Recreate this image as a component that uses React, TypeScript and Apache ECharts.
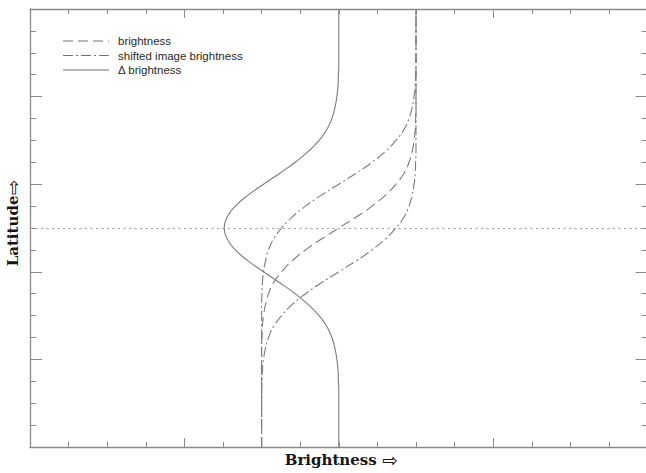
import React, { useEffect, useRef } from "react";
import * as echarts from "echarts";

// Latitude samples (y axis, 0 = bottom, 20 = top, equator line at 10)
const latitude = [
  0, 0.5, 1, 1.5, 2, 2.5, 3, 3.5, 4, 4.5, 5, 5.5, 6, 6.5, 7, 7.5, 8, 8.5, 9, 9.5,
  10, 10.5, 11, 11.5, 12, 12.5, 13, 13.5, 14, 14.5, 15, 15.5, 16, 16.5, 17, 17.5,
  18, 18.5, 19, 19.5, 20,
];

// Brightness (dashed)
const brightness = [
  6.0, 6.0, 6.0, 6.0, 6.0, 6.0, 6.0, 6.0, 6.0, 6.0, 6.01, 6.02, 6.05, 6.1, 6.18,
  6.31, 6.52, 6.79, 7.14, 7.55, 8.0, 8.45, 8.86, 9.21, 9.48, 9.69, 9.82, 9.9,
  9.95, 9.98, 9.99, 10.0, 10.0, 10.0, 10.0, 10.0, 10.0, 10.0, 10.0, 10.0, 10.0,
];

// Shifted image brightness, shifted towards the top (dash-dot)
const shiftedUp = [
  6.0, 6.0, 6.0, 6.0, 6.0, 6.0, 6.0, 6.0, 6.0, 6.0, 6.0, 6.0, 6.0, 6.0, 6.01,
  6.02, 6.05, 6.1, 6.18, 6.31, 6.52, 6.79, 7.14, 7.55, 8.0, 8.45, 8.86, 9.21,
  9.48, 9.69, 9.82, 9.9, 9.95, 9.98, 9.99, 10.0, 10.0, 10.0, 10.0, 10.0, 10.0,
];

// Shifted image brightness, shifted towards the bottom (dash-dot)
const shiftedDown = [
  6.0, 6.0, 6.0, 6.0, 6.0, 6.0, 6.01, 6.02, 6.05, 6.1, 6.18, 6.31, 6.52, 6.79,
  7.14, 7.55, 8.0, 8.45, 8.86, 9.21, 9.48, 9.69, 9.82, 9.9, 9.95, 9.98, 9.99,
  10.0, 10.0, 10.0, 10.0, 10.0, 10.0, 10.0, 10.0, 10.0, 10.0, 10.0, 10.0, 10.0, 10.0,
];

// Delta brightness (solid)
const deltaBrightness = [
  8.0, 8.0, 8.0, 8.0, 8.0, 8.0, 7.99, 7.98, 7.95, 7.9, 7.82, 7.69, 7.49, 7.21,
  6.87, 6.47, 6.05, 5.65, 5.32, 5.11, 5.03, 5.11, 5.32, 5.65, 6.05, 6.47, 6.87,
  7.21, 7.49, 7.69, 7.82, 7.9, 7.95, 7.98, 7.99, 8.0, 8.0, 8.0, 8.0, 8.0, 8.0,
];

const equatorLatitude = 10;
const xMajorTicks = [4, 12];
const yMajorTicks = [0, 4, 8, 12, 16, 20];
const legendLabels = ["brightness", "shifted image brightness", "\u0394 brightness"];

export default function App() {
  const ref = useRef<HTMLDivElement>(null);

  useEffect(() => {
    if (!ref.current) return;
    const chart = echarts.init(ref.current, null, { renderer: "svg" });
    const axisColor = "#8a8a8a";
    const curveColor = "#7c7c7c";
    const pairs = (xs: number[]) => xs.map((x, i) => [x, latitude[i]]);
    const dashed = [10, 5];
    const dashDot = [10, 3, 2, 3];

    const xMinor = (position: string, extra: any = {}) => ({
      type: "value",
      position,
      min: 0,
      max: 16,
      interval: 1,
      axisLabel: { show: false },
      splitLine: { show: false },
      axisLine: { show: true, onZero: false, lineStyle: { color: axisColor, width: 1.3 } },
      axisTick: { show: true, inside: true, length: 5, lineStyle: { color: axisColor, width: 1 } },
      ...extra,
    });
    const xMajor = (position: string) => ({
      type: "value",
      position,
      min: 0,
      max: 16,
      axisLabel: { show: false },
      splitLine: { show: false },
      axisLine: { show: false, onZero: false },
      axisTick: {
        show: true,
        inside: true,
        length: 9,
        customValues: xMajorTicks,
        lineStyle: { color: axisColor, width: 1 },
      },
    });
    const yMinor = (position: string, extra: any = {}) => ({
      type: "value",
      position,
      min: 0,
      max: 20,
      interval: 1,
      axisLabel: { show: false },
      splitLine: { show: false },
      axisLine: { show: true, onZero: false, lineStyle: { color: axisColor, width: 1.3 } },
      axisTick: { show: true, inside: true, length: 6, lineStyle: { color: axisColor, width: 1 } },
      ...extra,
    });
    const yMajor = (position: string) => ({
      type: "value",
      position,
      min: 0,
      max: 20,
      axisLabel: { show: false },
      splitLine: { show: false },
      axisLine: { show: false, onZero: false },
      axisTick: {
        show: true,
        inside: true,
        length: 12,
        customValues: yMajorTicks,
        lineStyle: { color: axisColor, width: 1 },
      },
    });

    const nameStyle = {
      fontFamily: '"DejaVu Serif", "Liberation Serif", serif',
      fontWeight: "bold",
      fontSize: 15,
      color: "#151515",
      rich: {
        a: {
          fontFamily: '"DejaVu Sans", sans-serif',
          fontWeight: "normal",
          fontSize: 19,
          color: "#151515",
        },
      },
    };

    const legendFont = '11.5px "Liberation Sans", Arial, sans-serif';
    const legendY = [41, 55.5, 70];
    const legendDash = [dashed, dashDot, null];

    const graphic: any[] = [];
    legendLabels.forEach((label, i) => {
      graphic.push({
        type: "line",
        shape: { x1: 63, y1: legendY[i], x2: 109, y2: legendY[i] },
        style: {
          stroke: "#707070",
          lineWidth: 1.2,
          lineDash: legendDash[i] || undefined,
        },
      });
      graphic.push({
        type: "text",
        x: 118,
        y: legendY[i],
        style: {
          text: label,
          font: legendFont,
          fill: "#2a2a2a",
          verticalAlign: "middle",
          align: "left",
        },
      });
    });

    const lineSeries = (name: string, xs: number[], type: any, extra: any = {}) => ({
      name,
      type: "line",
      xAxisIndex: 0,
      yAxisIndex: 0,
      data: pairs(xs),
      showSymbol: false,
      symbol: "none",
      smooth: true,
      lineStyle: { color: curveColor, width: 1.1, type },
      z: 3,
      ...extra,
    });

    chart.setOption({
      animation: false,
      backgroundColor: "#ffffff",
      grid: {
        left: 30,
        top: 9,
        width: 617.6,
        height: 438,
        containLabel: false,
        outerBoundsMode: "none",
      },
      xAxis: [
        xMinor("bottom", {
          name: "Brightness {a|\u21E8}",
          nameLocation: "middle",
          nameGap: 3,
          nameTextStyle: { ...nameStyle, verticalAlign: "top", padding: [0, 0, 0, 5] },
        }),
        xMajor("bottom"),
        xMinor("top"),
        xMajor("top"),
      ],
      yAxis: [
        yMinor("left", {
          name: "Latitude{a|\u21E8}",
          nameLocation: "middle",
          nameRotate: 90,
          nameGap: 8,
          nameTextStyle: { ...nameStyle, padding: [0, 0, 0, 10] },
        }),
        yMajor("left"),
        yMinor("right"),
        yMajor("right"),
      ],
      series: [
        lineSeries("brightness", brightness, dashed),
        lineSeries("shifted image brightness", shiftedUp, dashDot),
        lineSeries("shifted image brightness", shiftedDown, dashDot),
        lineSeries("\u0394 brightness", deltaBrightness, "solid", {
          markLine: {
            silent: true,
            symbol: "none",
            label: { show: false },
            lineStyle: { color: "#9a9a9a", width: 1, type: [2, 3.5] },
            data: [{ yAxis: equatorLatitude }],
          },
        }),
      ],
      graphic,
    });

    return () => chart.dispose();
  }, []);

  return (
    <div
      ref={ref}
      style={{ position: "absolute", left: 0, top: 0, width: 646, height: 473 }}
    />
  );
}
